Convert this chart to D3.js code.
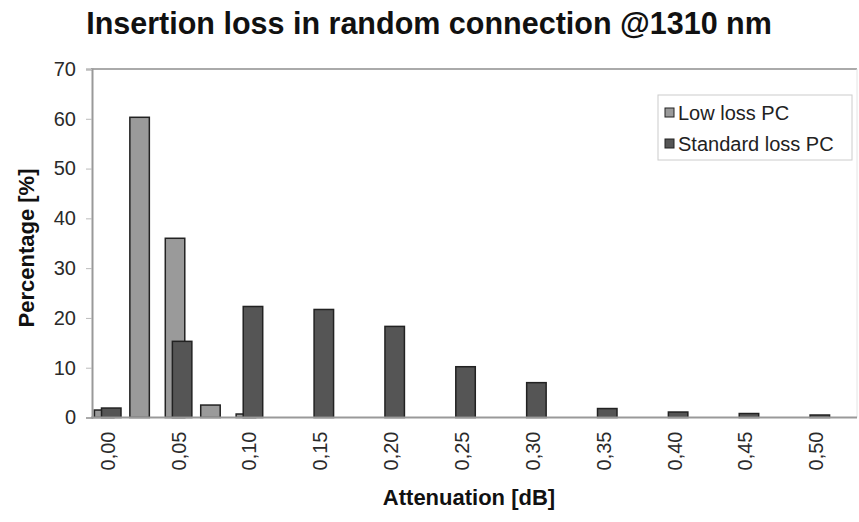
<!DOCTYPE html>
<html>
<head>
<meta charset="utf-8">
<script src="https://cdn.jsdelivr.net/npm/d3@7"></script>
<style>
  html, body { margin: 0; padding: 0; background: #fff; }
  text { font-family: "Liberation Sans", Arial, sans-serif; }
</style>
</head>
<body>
<svg id="chart" width="859" height="522"></svg>
<script>
// Data
const categories = ["0.000","0.025","0.050","0.075","0.100","0.125","0.150","0.175","0.200","0.225","0.250",
                    "0.275","0.300","0.325","0.350","0.375","0.400","0.425","0.450","0.475","0.500"];
const tickLabels = ["0,00","0,05","0,10","0,15","0,20","0,25","0,30","0,35","0,40","0,45","0,50"];
const lowLoss      = [1.5, 60.3, 36, 2.5, 0.7, 0, 0, 0, 0, 0, 0, 0, 0, 0, 0, 0, 0, 0, 0, 0, 0];
const standardLoss = [1.9, 0, 15.3, 0, 22.3, 0, 21.7, 0, 18.3, 0, 10.2, 0, 7.0, 0, 1.8, 0, 1.1, 0, 0.8, 0, 0.5];
const seriesNames = ["Low loss PC", "Standard loss PC"];
const yTicks = [0, 10, 20, 30, 40, 50, 60, 70];

const svg = d3.select("#chart");
const colors = ["#9a9a9a", "#555555"];
const strokeCol = "#222";

const x = d3.scaleBand().domain(categories).range([90, 834]).padding(0);
const y = d3.scaleLinear().domain([0, 70]).range([417.5, 69]);
const bw = x.bandwidth();
const barW = bw * 0.55;
const off = bw * 0.1;

// frame: top border and right border
svg.append("line").attr("x1", 91).attr("x2", 857).attr("y1", y(70)).attr("y2", y(70))
  .attr("stroke", "#aaa").attr("stroke-width", 2);
svg.append("line").attr("x1", 857).attr("x2", 857).attr("y1", y(70)).attr("y2", y(0))
  .attr("stroke", "#e4e4e4").attr("stroke-width", 1);

// y axis
const yAxis = svg.append("g").attr("transform", "translate(92,0)")
  .call(d3.axisLeft(y).tickValues(yTicks).tickSize(6).tickPadding(10).tickFormat(d3.format("d")));
yAxis.select(".domain").attr("stroke", "#999").attr("stroke-width", 2);
yAxis.selectAll(".tick line").attr("stroke", "#bbb");
yAxis.selectAll(".tick text").attr("font-size", 20).attr("fill", "#2a2a2a")
  .attr("font-family", "Liberation Sans, Arial, sans-serif");

// bars - low loss (behind), standard loss (in front)
svg.append("g").selectAll("rect")
  .data(categories.map((c, i) => ({ c, v: lowLoss[i] })).filter(d => d.v > 0))
  .join("rect")
  .attr("x", d => x(d.c) + bw / 2 - off - barW / 2)
  .attr("y", d => y(d.v))
  .attr("width", barW)
  .attr("height", d => y(0) - y(d.v))
  .attr("fill", colors[0]).attr("stroke", strokeCol).attr("stroke-width", 1.5);

svg.append("g").selectAll("rect")
  .data(categories.map((c, i) => ({ c, v: standardLoss[i] })).filter(d => d.v > 0))
  .join("rect")
  .attr("x", d => x(d.c) + bw / 2 + off - barW / 2)
  .attr("y", d => y(d.v))
  .attr("width", barW)
  .attr("height", d => y(0) - y(d.v))
  .attr("fill", colors[1]).attr("stroke", strokeCol).attr("stroke-width", 1.5);

// x axis baseline
svg.append("line").attr("x1", 91).attr("x2", 857).attr("y1", y(0)).attr("y2", y(0))
  .attr("stroke", "#999").attr("stroke-width", 2);

// x axis labels
const labelCats = categories.filter((c, i) => i % 2 === 0);
const xAxis = svg.append("g").attr("transform", `translate(0,${y(0)})`)
  .call(d3.axisBottom(x).tickValues(labelCats).tickSize(0)
    .tickFormat((d, i) => tickLabels[i]));
xAxis.select(".domain").remove();
xAxis.selectAll(".tick text")
  .attr("font-size", 20).attr("fill", "#2a2a2a")
  .attr("font-family", "Liberation Sans, Arial, sans-serif")
  .attr("transform", "rotate(-90)")
  .attr("text-anchor", "end")
  .attr("x", -14).attr("y", 0).attr("dy", "0.35em");

// title
svg.append("text").attr("x", 429).attr("y", 34).attr("text-anchor", "middle")
  .attr("font-size", 30.5).attr("font-weight", "bold").attr("fill", "#111")
  .text("Insertion loss in random connection @1310 nm");

// axis titles
svg.append("text").attr("x", 469).attr("y", 505).attr("text-anchor", "middle")
  .attr("font-size", 22).attr("font-weight", "bold").attr("fill", "#111")
  .text("Attenuation [dB]");
svg.append("text").attr("transform", "translate(34,248) rotate(-90)").attr("text-anchor", "middle")
  .attr("font-size", 22).attr("font-weight", "bold").attr("fill", "#111")
  .text("Percentage [%]");

// legend
const lg = svg.append("g");
lg.append("rect").attr("x", 658).attr("y", 95).attr("width", 194).attr("height", 65)
  .attr("fill", "#fff").attr("stroke", "#ccc").attr("stroke-width", 1);
seriesNames.forEach((n, i) => {
  const cy = 112.5 + i * 31;
  lg.append("rect").attr("x", 665).attr("y", cy - 4.5).attr("width", 9).attr("height", 9)
    .attr("fill", colors[i]).attr("stroke", strokeCol).attr("stroke-width", 1);
  lg.append("text").attr("x", 678).attr("y", cy).attr("dy", "0.35em")
    .attr("font-size", 20).attr("fill", "#222").text(n);
});
</script>
</body>
</html>
